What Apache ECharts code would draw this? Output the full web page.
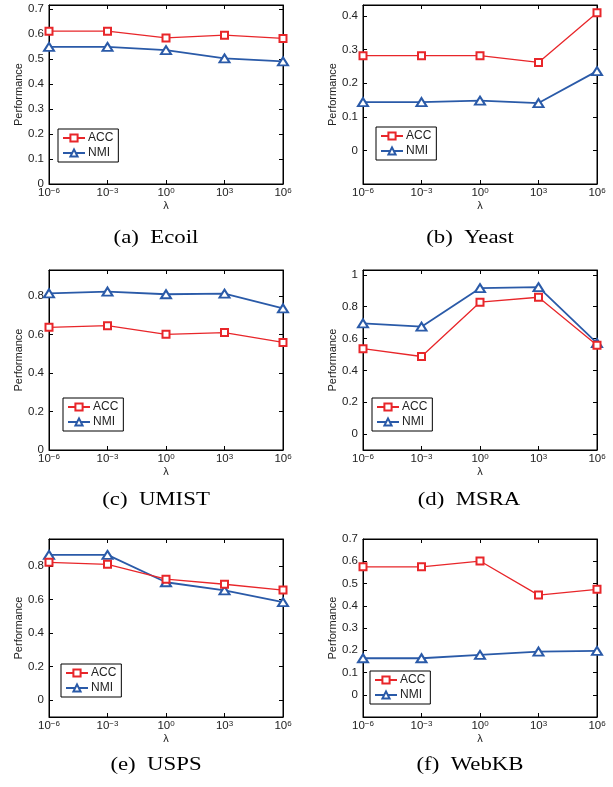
<!DOCTYPE html>
<html>
<head>
<meta charset="utf-8">
<script src="https://cdn.jsdelivr.net/npm/echarts@6/dist/echarts.min.js"></script>
<style>
html,body{margin:0;padding:0;background:#fff;}
#chart{width:613px;height:787px;}
</style>
</head>
<body>
<div id="chart"></div>
<script>
// ---- data ----
const lambdaExp = [-6, -3, 0, 3, 6];
const seriesNames = ['ACC', 'NMI'];
const captions = ['(a)  Ecoil', '(b)  Yeast', '(c)  UMIST', '(d)  MSRA', '(e)  USPS', '(f)  WebKB'];

const ecoilACC = [0.612, 0.612, 0.585, 0.596, 0.583];
const ecoilNMI = [0.549, 0.549, 0.536, 0.503, 0.491];
const yeastACC = [0.282, 0.282, 0.282, 0.262, 0.410];
const yeastNMI = [0.144, 0.144, 0.148, 0.141, 0.236];
const umistACC = [0.637, 0.646, 0.601, 0.610, 0.559];
const umistNMI = [0.814, 0.823, 0.809, 0.812, 0.736];
const msraACC = [0.536, 0.487, 0.828, 0.859, 0.557];
const msraNMI = [0.695, 0.674, 0.916, 0.922, 0.571];
const uspsACC = [0.823, 0.811, 0.722, 0.692, 0.657];
const uspsNMI = [0.867, 0.867, 0.704, 0.655, 0.585];
const webkbACC = [0.575, 0.575, 0.601, 0.448, 0.474];
const webkbNMI = [0.164, 0.164, 0.179, 0.194, 0.197];

// y-axis ranges / tick steps / last labelled tick
const yMin = [0, -0.1, 0, -0.1, -0.1, -0.1];
const yMax = [0.717, 0.433, 0.935, 1.03, 0.962, 0.7];
const yStep = [0.1, 0.1, 0.2, 0.2, 0.2, 0.1];
const yLabelTop = [0.7, 0.4, 0.8, 1.0, 0.8, 0.7];

const panelData = [
  [ecoilACC, ecoilNMI], [yeastACC, yeastNMI], [umistACC, umistNMI],
  [msraACC, msraNMI], [uspsACC, uspsNMI], [webkbACC, webkbNMI]
];

// ---- layout ----
const colLeft = [49, 363];
const rowTop = [5, 270, 539];
const rowH = [179, 180, 178];
const gridW = 234;
const legendPos = [[58, 129], [376, 127], [63, 398], [372, 398], [61, 664], [370, 671]];
const captionPos = [[156, 238], [470, 238], [156, 500], [469, 500], [156, 765], [470, 765]];

const RED = '#e8262a';
const BLUE = '#2a5aa8';
const TXT = '#222';

const categories = lambdaExp.map(e => String(e));

function supText(e) { return String(e).replace('-', '\u2212'); }

const grids = [], xAxes = [], yAxes = [], series = [], legends = [], graphics = [];

for (let i = 0; i < 6; i++) {
  const col = i % 2, row = Math.floor(i / 2);
  grids.push({
    left: colLeft[col], top: rowTop[row], width: gridW, height: rowH[row],
    show: true, borderColor: '#000', borderWidth: 1, backgroundColor: 'transparent'
  });
  const step = yStep[i], top = yLabelTop[i];
  xAxes.push({
    type: 'category', gridIndex: i, data: categories, boundaryGap: false,
    position: 'bottom',
    axisLine: { show: true, onZero: false, lineStyle: { color: '#000', width: 1 } },
    axisTick: { show: true, inside: true, length: 4, lineStyle: { color: '#000' }, alignWithLabel: true },
    axisLabel: {
      margin: 3, interval: 0,
      formatter: v => '{b|10}{s|' + supText(v) + '}',
      rich: {
        b: { fontSize: 11.5, fontFamily: 'Liberation Sans', color: TXT, verticalAlign: 'bottom', lineHeight: 12, padding: [5, 0, 0, 0] },
        s: { fontSize: 8, fontFamily: 'Liberation Sans', color: TXT, verticalAlign: 'top', lineHeight: 9 }
      }
    },
    name: '\u03bb', nameLocation: 'middle', nameGap: 16,
    nameTextStyle: { fontSize: 11, fontFamily: 'Liberation Sans', color: TXT }
  });
  xAxes.push({
    type: 'category', gridIndex: i, data: categories, boundaryGap: false,
    position: 'top',
    axisLine: { show: true, onZero: false, lineStyle: { color: '#000', width: 1 } },
    axisTick: { show: true, inside: true, length: 4, lineStyle: { color: '#000' } },
    axisLabel: { show: false }
  });
  const yCommon = {
    type: 'value', gridIndex: i, min: yMin[i], max: yMax[i], splitNumber: Math.round((yMax[i] - yMin[i]) / step),
    splitLine: { show: false },
    axisLine: { show: true, onZero: false, lineStyle: { color: '#000', width: 1 } },
    axisTick: { show: true, inside: true, length: 4, lineStyle: { color: '#000' } }
  };
  yAxes.push(Object.assign({}, yCommon, {
    position: 'left',
    axisLabel: {
      margin: 5, fontSize: 11.5, fontFamily: 'Liberation Sans', color: TXT,
      showMinLabel: true, showMaxLabel: true,
      formatter: v => {
        const k = v / step;
        if (Math.abs(k - Math.round(k)) > 1e-6 || v < -1e-9 || v > top + 1e-9) return '';
        return String(+v.toFixed(2));
      }
    },
    name: 'Performance', nameLocation: 'middle', nameGap: 22,
    nameTextStyle: { fontSize: 11, fontFamily: 'Liberation Sans', color: TXT }
  }));
  yAxes.push(Object.assign({}, yCommon, {
    position: 'right',
    axisLabel: { show: false }
  }));

  series.push({
    name: seriesNames[0], type: 'line', xAxisIndex: 2 * i, yAxisIndex: 2 * i,
    data: panelData[i][0], symbol: 'emptyRect', symbolSize: 7,
    lineStyle: { color: RED, width: 1.3 },
    itemStyle: { color: RED, borderColor: RED, borderWidth: 1.3 },
    z: 3, animation: false
  });
  series.push({
    name: seriesNames[1], type: 'line', xAxisIndex: 2 * i, yAxisIndex: 2 * i,
    data: panelData[i][1], symbol: 'emptyTriangle', symbolSize: [10, 8],
    lineStyle: { color: BLUE, width: 1.8 },
    itemStyle: { color: BLUE, borderColor: BLUE, borderWidth: 1.6 },
    z: 2, animation: false
  });

  legends.push({
    data: seriesNames, orient: 'vertical',
    left: legendPos[i][0], top: legendPos[i][1],
    backgroundColor: '#fff', borderColor: '#000', borderWidth: 1,
    padding: [3, 5, 3, 4], itemGap: 3, itemWidth: 22, itemHeight: 9,
    selectedMode: false,
    textStyle: { fontSize: 12, fontFamily: 'Liberation Sans', color: TXT, padding: [0, 0, 0, -2] }
  });

  graphics.push({
    type: 'text', x: captionPos[i][0], y: captionPos[i][1],
    style: {
      text: captions[i], fill: '#000',
      font: '19px "Liberation Serif"', textAlign: 'center', textVerticalAlign: 'middle'
    },
    scaleX: 1.2, originX: 0, originY: 0
  });
}

const chart = echarts.init(document.getElementById('chart'), null, { renderer: 'canvas' });
chart.setOption({
  animation: false,
  backgroundColor: '#fff',
  grid: grids, xAxis: xAxes, yAxis: yAxes, series: series, legend: legends,
  graphic: graphics
});
</script>
</body>
</html>
